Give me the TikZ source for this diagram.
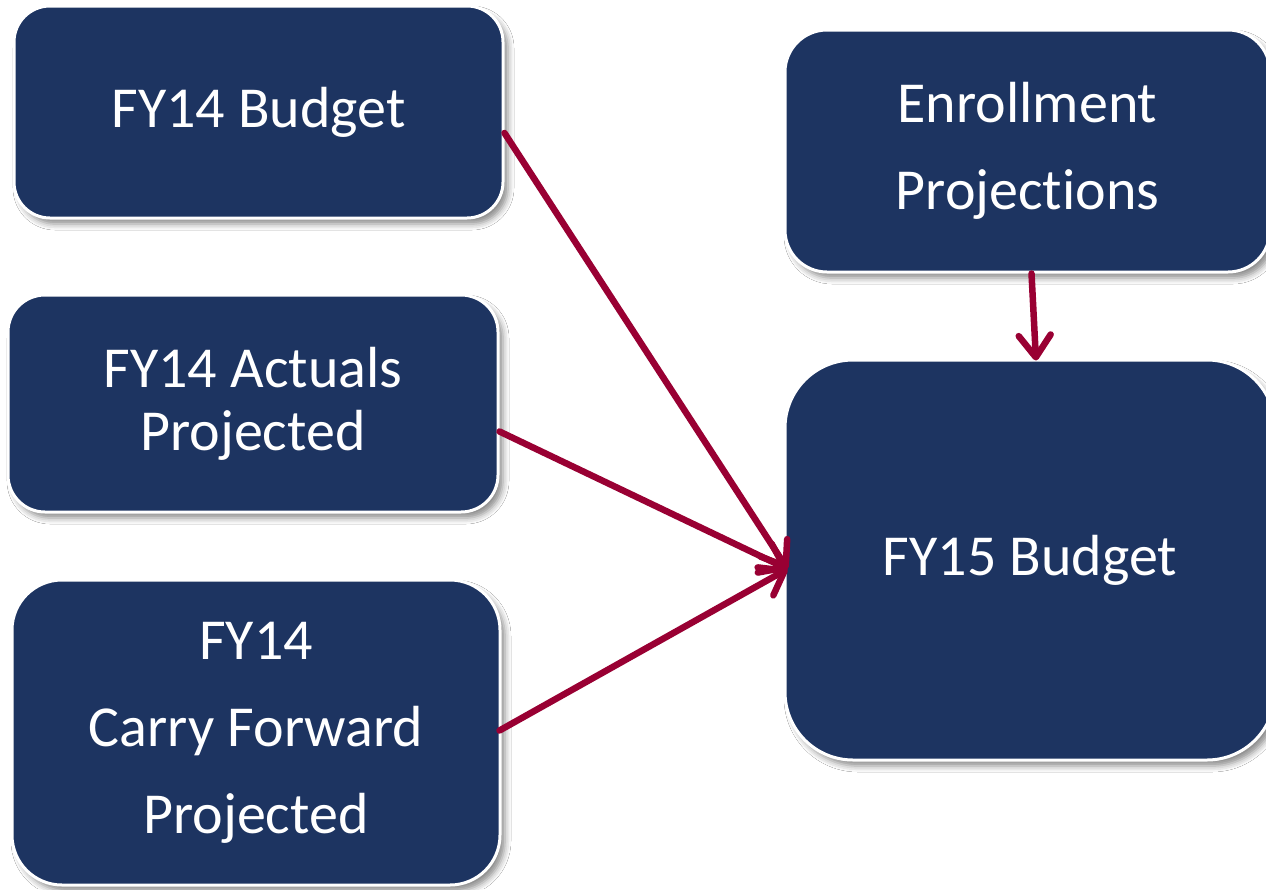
\documentclass[tikz,border=0pt]{standalone}
\usepackage{fontspec}
\setmainfont{Carlito}[Ligatures=NoCommon]
\usetikzlibrary{arrows.meta,shadows.blur}
\definecolor{navy}{RGB}{29,52,97}
\definecolor{crimson}{RGB}{153,0,51}
\begin{document}
\begin{tikzpicture}[x=1pt,y=-1pt,
  box/.style={draw=white, line width=3pt, fill=navy, text=white, align=center,
    font=\fontsize{58}{87}\selectfont, inner sep=0pt,
    blur shadow={shadow xshift=5pt, shadow yshift=-6pt, shadow blur radius=6pt, shadow opacity=45}},
  arr/.style={draw=crimson, line width=6.5pt, line cap=round, line join=round,
    -{Straight Barb[length=22pt,width=32pt,line cap=round,line join=round]}}]
\useasboundingbox[fill=white] (0,0) rectangle (1266,889);
\node[box, minimum width=489pt, minimum height=212pt, rounded corners=36pt] (b1) at (258.5,112) {FY14 Budget};
\node[box, minimum width=490pt, minimum height=217pt, rounded corners=37pt,
  font=\fontsize{58}{63}\selectfont] (b2) at (253,403.5) {FY14 Actuals\\Projected};
\node[box, minimum width=488pt, minimum height=305pt, rounded corners=50pt] (b3) at (256,732.5) {FY14\\Carry Forward\\Projected};
\node[box, minimum width=485pt, minimum height=242pt, rounded corners=42pt] (b4) at (1027.5,151) {Enrollment\\Projections};
\node[box, minimum width=490pt, minimum height=400pt, rounded corners=68pt] (b5) at (1030,560) {FY15 Budget};
\coordinate (t) at ([xshift=4pt,yshift=-9pt]b5.west);
\draw[arr] ([yshift=-21pt]b1.east) -- (t);
\draw[arr] ([yshift=-28pt]b2.east) -- (t);
\draw[arr] ([xshift=-2pt,yshift=2pt]b3.east) -- (t);
\draw[arr] ([xshift=4pt]b4.south) -- ([xshift=6pt,yshift=-2pt]b5.north);
\end{tikzpicture}
\end{document}
